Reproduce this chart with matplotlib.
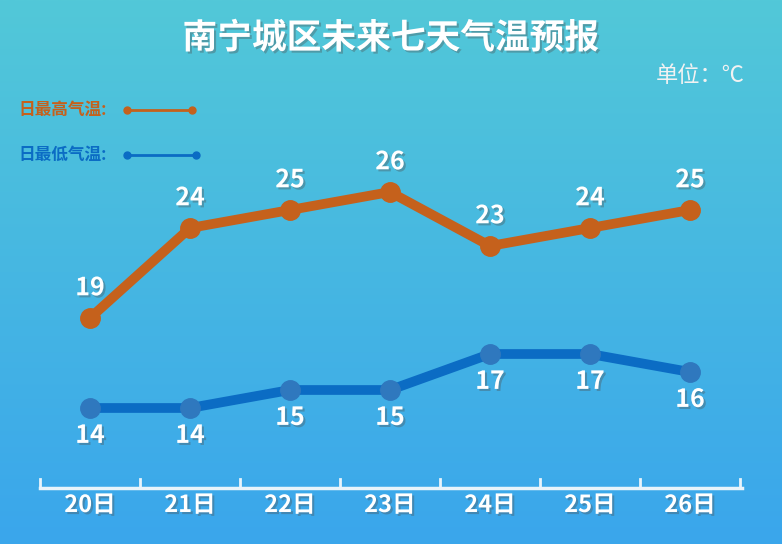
import matplotlib
matplotlib.use("Agg")
import matplotlib.pyplot as plt
import matplotlib.patheffects as pe
import numpy as np

plt.rcParams["font.family"] = "Noto Sans CJK SC"

days = ["20日", "21日", "22日", "23日", "24日", "25日", "26日"]
high = [19, 24, 25, 26, 23, 24, 25]
low = [14, 14, 15, 15, 17, 17, 16]

ORANGE = "#c5611c"
BLUE = "#0b6cc4"

fig = plt.figure(figsize=(7.82, 5.44), dpi=100)

# 背景渐变
bg = fig.add_axes([0, 0, 1, 1])
grad = np.linspace(0, 1, 256).reshape(-1, 1)
top = np.array([0x52, 0xc8, 0xd8]) / 255
bot = np.array([0x3a, 0xa6, 0xec]) / 255
img = top * (1 - grad[..., None]) + bot * grad[..., None]
bg.imshow(img, aspect="auto", extent=[0, 1, 0, 1])
bg.axis("off")

ax = fig.add_axes([0, 0, 1, 1])
ax.patch.set_alpha(0)
ax.axis("off")
ax.set_xlim(-0.9, 6.92)
ax.set_ylim(6.444, 36.667)

xs = np.arange(len(days))
shadow = [pe.withSimplePatchShadow(offset=(1.5, -1.5), alpha=0.35)]

ax.plot(xs, high, color=ORANGE, lw=7, marker="o", ms=14, mfc=ORANGE, mec=ORANGE, zorder=3)
ax.plot(xs, low, color=BLUE, lw=7, marker="o", ms=14, mfc="#2f78be", mec="#2f78be", zorder=3)

for x, h, l in zip(xs, high, low):
    ax.text(x, h + 1.65, str(h), ha="center", va="center", color="white",
            fontsize=18, fontweight="bold", path_effects=shadow)
    ax.text(x, l - 1.55, str(l), ha="center", va="center", color="white",
            fontsize=18, fontweight="bold", path_effects=shadow)

# 底部坐标轴
ya = 9.556
ax.plot([-0.5, 6.52], [ya, ya], color="#e8f4fb", lw=2.5)
for b in np.arange(-0.5, 6.6, 1.0):
    ax.plot([b, b], [ya, ya + 0.5], color="#e8f4fb", lw=2)
for x, d in zip(xs, days):
    ax.text(x, 8.61, d, ha="center", va="center", color="white",
            fontsize=17, fontweight="bold", path_effects=shadow)

# 标题
fig.text(0.5, 1 - 38 / 544, "南宁城区未来七天气温预报", ha="center", va="center",
         color="white", fontsize=25, fontweight="bold", path_effects=shadow)
fig.text(745 / 782, 1 - 76 / 544, "单位：℃", ha="right", va="center",
         color="#f2f2f2", fontsize=16)

# 图例
for yp, label, c, x2 in [(110, "日最高气温:", ORANGE, 192), (155, "日最低气温:", BLUE, 196)]:
    fig.text(18 / 782, 1 - yp / 544, label, ha="left", va="center", color=c,
             fontsize=12, fontweight="bold")
    fig.add_artist(plt.Line2D([127 / 782, x2 / 782], [1 - yp / 544] * 2, color=c,
                              lw=2, marker="o", ms=5))

fig.savefig("out.png", dpi=100)
